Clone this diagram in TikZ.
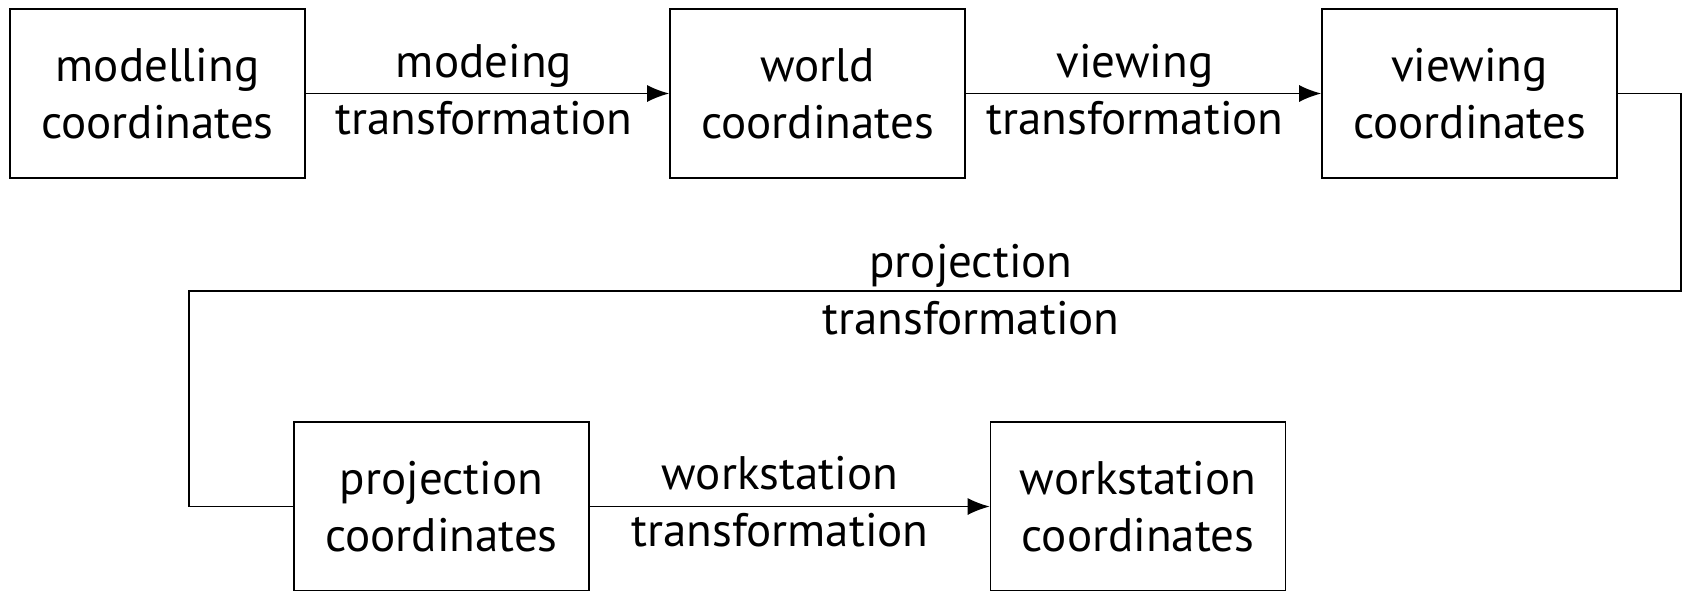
\documentclass[tikz,border=0pt]{standalone}
\usepackage{fontspec}
\setmainfont{PT Sans}
\usetikzlibrary{arrows.meta}
\begin{document}
\begin{tikzpicture}[x=1pt,y=-1pt,line width=1.6pt,
  txt/.style={align=center,font=\fontsize{47}{57}\selectfont,inner sep=0pt},
  box/.style={txt,draw,minimum width=295pt,minimum height=169pt},
  lbl/.style={txt},
  arr/.style={-{Latex[length=22pt,width=17pt]}}]
\useasboundingbox (0,0) rectangle (1683,590);
\node[box] (b1) at (157.5,93.5) {modelling\\coordinates};
\node[box] (b2) at (817.5,93.5) {world\\coordinates};
\node[box] (b3) at (1469.5,93.5) {viewing\\coordinates};
\node[box] (b4) at (441.5,506.5) {projection\\coordinates};
\node[box] (b5) at (1138,506.5) {workstation\\coordinates};
\node[lbl] (l1) at (484,90) {modeing\\transformation};
\node[lbl] (l2) at (1135,90) {viewing\\transformation};
\node[lbl] (l3) at (971,290) {projection\\transformation};
\node[lbl] (l4) at (780,502) {workstation\\transformation};
\coordinate (c1) at (1681,0);
\coordinate (c2) at (189,291);
\draw[arr] (b1) -- (b2);
\draw[arr] (b2) -- (b3);
\draw[arr] (b4) -- (b5);
\draw (b3.east) -- (b3.east -| c1) |- (c2) |- (b4.west);
\end{tikzpicture}
\end{document}
